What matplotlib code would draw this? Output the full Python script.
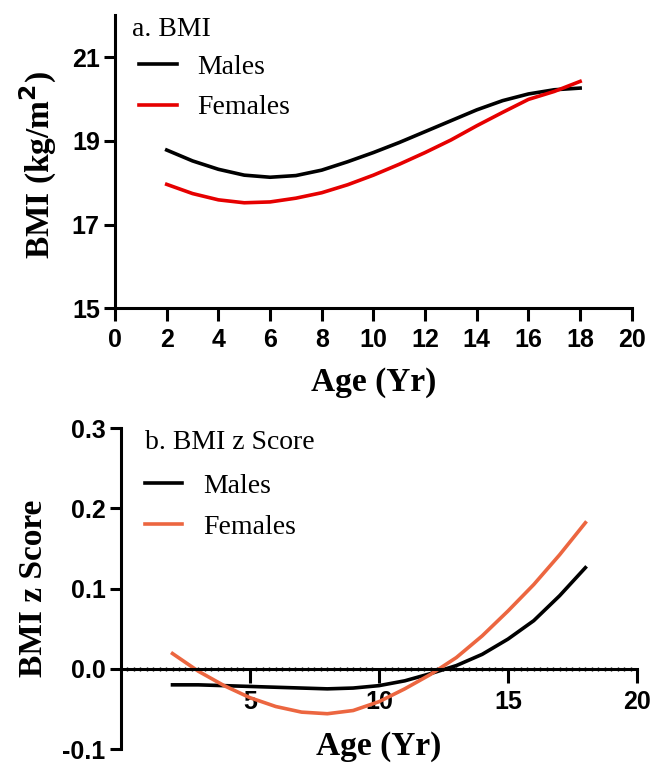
import matplotlib
matplotlib.use("Agg")
import matplotlib.pyplot as plt
from matplotlib.ticker import MultipleLocator

# ages 2..18, values
ages = [2, 3, 4, 5, 6, 7, 8, 9, 10, 11, 12, 13, 14, 15, 16, 17, 18]

bmi_males = [18.78, 18.52, 18.32, 18.18, 18.13, 18.17, 18.30, 18.50, 18.72,
             18.96, 19.22, 19.48, 19.74, 19.96, 20.12, 20.22, 20.26]
bmi_females = [17.96, 17.74, 17.59, 17.52, 17.54, 17.63, 17.76, 17.95, 18.18,
               18.44, 18.72, 19.02, 19.36, 19.68, 19.99, 20.18, 20.42]

z_males = [-0.020, -0.020, -0.021, -0.022, -0.023, -0.024, -0.025, -0.024, -0.021,
           -0.015, -0.006, 0.004, 0.018, 0.037, 0.060, 0.091, 0.126]
z_females = [0.019, -0.003, -0.021, -0.036, -0.047, -0.054, -0.056, -0.052, -0.041,
             -0.025, -0.007, 0.014, 0.041, 0.072, 0.105, 0.142, 0.182]

SERIF = "Liberation Serif"
SANS = "Liberation Sans"
LW = 2.6
TICK_FS = 18
LABEL_FS = 24
TEXT_FS = 20


def style_ticks(ax):
    for lab in ax.get_xticklabels() + ax.get_yticklabels():
        lab.set_family(SANS)
        lab.set_fontweight("bold")
        lab.set_fontsize(TICK_FS)


def add_legend(ax, y):
    ax.legend(loc="upper left", bbox_to_anchor=(0.025, y), frameon=False,
              prop={"family": SERIF, "size": TEXT_FS}, handlelength=1.35,
              handletextpad=0.75, labelspacing=0.55, borderaxespad=0)


fig = plt.figure(figsize=(6.5, 7.63), dpi=100)

# ---- a. BMI ----
ax1 = fig.add_axes([0.177, 0.596, 0.795, 0.384])
ax1.plot(ages, bmi_males, color="black", lw=LW, label="Males")
ax1.plot(ages, bmi_females, color="#e60000", lw=LW, label="Females")
ax1.set_xlim(0, 20)
ax1.set_ylim(15, 22)
ax1.set_xticks(range(0, 21, 2))
ax1.set_yticks([15, 17, 19, 21])
for s in ["top", "right"]:
    ax1.spines[s].set_visible(False)
for s in ["left", "bottom"]:
    ax1.spines[s].set_linewidth(2.2)
ax1.tick_params(axis="x", direction="out", length=9, width=2.2, pad=5)
ax1.tick_params(axis="y", direction="out", length=8, width=2.2, pad=3)
style_ticks(ax1)
ax1.set_xlabel("Age (Yr)", family=SERIF, fontweight="bold", fontsize=LABEL_FS)
ax1.set_ylabel("BMI (kg/m$^\\mathbf{2}$)", family=SERIF, fontweight="bold", fontsize=LABEL_FS)
ax1.xaxis.set_label_coords(0.5, -0.2)
ax1.yaxis.set_label_coords(-0.108, 0.49)
ax1.text(0.033, 0.995, "a. BMI", transform=ax1.transAxes, family=SERIF,
         fontsize=TEXT_FS, va="top", ha="left")
add_legend(ax1, 0.905)

# ---- b. BMI z Score ----
ax2 = fig.add_axes([0.186, 0.0183, 0.794, 0.4207])
ax2.plot(ages, z_males, color="black", lw=LW, label="Males")
ax2.plot(ages, z_females, color="#ec6640", lw=LW, label="Females")
ax2.set_xlim(0, 20)
ax2.set_ylim(-0.1, 0.3)
ax2.set_xticks([5, 10, 15, 20])
ax2.xaxis.set_minor_locator(MultipleLocator(0.25))
ax2.set_yticks([-0.1, 0.0, 0.1, 0.2, 0.3])
ax2.set_yticklabels(["-0.1", "0.0", "0.1", "0.2", "0.3"])
ax2.spines["top"].set_visible(False)
ax2.spines["right"].set_visible(False)
ax2.spines["bottom"].set_position(("data", 0))
for s in ["left", "bottom"]:
    ax2.spines[s].set_linewidth(2.2)
ax2.tick_params(axis="x", which="major", direction="out", length=10, width=2.2, pad=5)
ax2.tick_params(axis="x", which="minor", direction="inout", length=3, width=1.0)
ax2.tick_params(axis="y", direction="out", length=8, width=2.2, pad=3)
style_ticks(ax2)
ax2.set_xlabel("Age (Yr)", family=SERIF, fontweight="bold", fontsize=LABEL_FS)
ax2.set_ylabel("BMI z Score", family=SERIF, fontweight="bold", fontsize=LABEL_FS)
ax2.xaxis.set_label_coords(0.5, 0.055)
ax2.yaxis.set_label_coords(-0.14, 0.5)
ax2.text(0.047, 0.995, "b. BMI z Score", transform=ax2.transAxes, family=SERIF,
         fontsize=TEXT_FS, va="top", ha="left")
add_legend(ax2, 0.893)

fig.savefig("out.png", dpi=100)
